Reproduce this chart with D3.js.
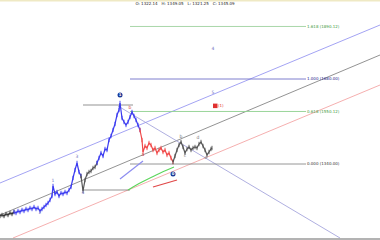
<!DOCTYPE html>
<html lang="en">
<head>
<meta charset="UTF-8">
<title>Elliott wave chart</title>
<style>
  html, body { margin: 0; padding: 0; background: #fff; }
  svg { display: block; font-family: "DejaVu Sans", sans-serif; }
</style>
</head>
<body>
<div id="chart"></div>
<script src="https://d3js.org/d3.v7.min.js"></script>
<script>
const [width, height] = [380, 240]

// header quote
const quote = "O: 1322.14   H: 1349.05   L: 1321.25   C: 1345.09"

// price path, split by wave colour (bar index, close)
const darkBars = [0, 2, 4, 6, 8, 10, 12, 14]
const darkCloses = [1132, 1136, 1132, 1140, 1136, 1144, 1140, 1148]

const blueBars1 = [14, 16, 18, 20, 22, 24, 26, 28, 30, 32, 34, 36, 38, 40, 42, 44, 46, 48, 50, 52, 53, 55, 57, 59, 61, 63, 65, 67, 69, 71, 73, 75, 77, 79, 81]
const blueCloses1 = [1148, 1144, 1152, 1148, 1156, 1152, 1160, 1156, 1164, 1160, 1168, 1160, 1164, 1152, 1160, 1168, 1176, 1184, 1196, 1212, 1252, 1220, 1228, 1212, 1224, 1220, 1228, 1224, 1236, 1248, 1284, 1316, 1344, 1308, 1292]

const greyBars1 = [81, 83, 85, 87, 89, 91, 93, 95, 97]
const greyCloses1 = [1292, 1232, 1276, 1300, 1308, 1312, 1324, 1328, 1344]

const blueBars2 = [97, 99, 101, 103, 105, 107, 109, 111, 113, 115, 117, 119, 120, 122, 124, 126, 128, 130, 132, 134, 136, 138, 140]
const blueCloses2 = [1344, 1364, 1384, 1372, 1400, 1396, 1436, 1452, 1476, 1500, 1536, 1556, 1584, 1524, 1508, 1496, 1508, 1528, 1548, 1532, 1516, 1496, 1476]

const redBars = [140, 142, 143, 145, 147, 149, 151, 153, 155, 157, 159, 161, 163, 165, 167, 169, 171, 173]
const redCloses = [1476, 1436, 1388, 1412, 1404, 1424, 1416, 1396, 1404, 1384, 1396, 1404, 1388, 1396, 1376, 1384, 1364, 1348]

const greyBars2 = [173, 175, 177, 179, 181, 183, 185, 187, 189, 191, 193, 195, 197, 199, 201, 203, 205, 207, 209, 211, 212]
const greyCloses2 = [1348, 1372, 1396, 1416, 1428, 1408, 1384, 1400, 1408, 1396, 1404, 1408, 1404, 1420, 1428, 1412, 1396, 1376, 1388, 1400, 1404]

// fibonacci levels
const fibRatios = [1.618, 1.000, 0.618, 0.000]
const fibBase = 1340.00
const fibRange = 340.00
const fibColors = ["#9fd39f", "#6f6fc8", "#8fd08f", "#8a8a8a"]
const fibTextColors = ["#3e9a3e", "#22228a", "#3e9a3e", "#333"]

// trend lines [x1, p1, x2, p2]
const channelUpper = [0, 1264, 380, 1896]
const channelMid = [0, 1136, 380, 1776]
const channelLower = [13, 1044, 380, 1656]
const fanDown = [118, 1572, 340, 1044]
const shortBlue = [120, 1280, 143, 1352]
const shortRed = [153, 1248, 177, 1276]
const peakLevel = [83, 1576, 133, 1576]
const baseLevel = [83, 1236, 130, 1236]

const greenArcBars = [128, 136, 144, 152, 160, 167, 174]
const greenArcPrices = [1236, 1256, 1272, 1288, 1304, 1316, 1328]

// wave labels
const waveLabels = [
  {bar: 213, price: 1796, text: "4", color: "#7070c0"},
  {bar: 213, price: 1620, text: "5", color: "#7070c0"},
  {bar: 77, price: 1364, text: "3", color: "#7070c0"},
  {bar: 53, price: 1268, text: "1", color: "#7070c0"},
  {bar: 40, price: 1140, text: "2", color: "#7070c0"},
  {bar: 83, price: 1220, text: "4", color: "#7070c0"},
  {bar: 130, price: 1560, text: "b", color: "#d04040"},
  {bar: 143, price: 1372, text: "a", color: "#d04040"},
  {bar: 181, price: 1444, text: "b", color: "#777"},
  {bar: 198, price: 1440, text: "d", color: "#777"},
  {bar: 206, price: 1360, text: "e", color: "#777"},
  {bar: 185, price: 1368, text: "c", color: "#777"}
]
const circleLabels = [
  {bar: 120, price: 1616, text: "1"},
  {bar: 173, price: 1300, text: "0"}
]

const x = d3.scaleLinear().domain([0, 380]).range([0, width])
const y = d3.scaleLinear().domain([fibBase, fibBase + fibRange]).range([164, 79])

const svg = d3.select("#chart").append("svg")
    .attr("width", width)
    .attr("height", height)

// header band
svg.append("rect").attr("x", 0).attr("y", 0).attr("width", width).attr("height", 1.5).attr("fill", "#efe9c4")
svg.append("text")
    .attr("x", 185).attr("y", 4.5)
    .attr("text-anchor", "middle")
    .attr("font-size", 4)
    .attr("fill", "#222")
    .style("white-space", "pre")
    .text(quote)

function seg(arr, color, w) {
  svg.append("line")
      .attr("x1", x(arr[0])).attr("y1", y(arr[1]))
      .attr("x2", x(arr[2])).attr("y2", y(arr[3]))
      .attr("stroke", color)
      .attr("stroke-width", w || 0.8)
}

// channel
seg(channelUpper, "#8c8cf0", 0.8)
seg(channelMid, "#777", 0.8)
seg(channelLower, "#f29a9a", 0.8)
seg(fanDown, "#9a9ad8", 0.8)

// fib levels
fibRatios.forEach((r, i) => {
  const p = fibBase + r * fibRange
  svg.append("line")
      .attr("x1", x(130)).attr("x2", x(306))
      .attr("y1", y(p)).attr("y2", y(p))
      .attr("stroke", fibColors[i])
      .attr("stroke-width", 0.9)
  svg.append("text")
      .attr("x", x(307)).attr("y", y(p) + 1.4)
      .attr("font-size", 4)
      .attr("fill", fibTextColors[i])
      .text(r.toFixed(3) + " (" + p.toFixed(2) + ")")
})

seg(peakLevel, "#666", 0.7)
seg(baseLevel, "#666", 0.7)
seg(shortBlue, "#8c8cf0", 1.2)
seg(shortRed, "#e04848", 1.2)

svg.append("path")
    .attr("d", d3.line().curve(d3.curveBasis)(greenArcBars.map((b, i) => [x(b), y(greenArcPrices[i])])))
    .attr("fill", "none")
    .attr("stroke", "#5cd65c")
    .attr("stroke-width", 1.1)

// price series
function series(bars, closes, color) {
  const pts = bars.map((b, i) => [x(b), y(closes[i])])
  svg.append("path")
      .attr("d", d3.line()(pts))
      .attr("fill", "none")
      .attr("stroke", color)
      .attr("stroke-width", 1.2)
  svg.append("g").selectAll("line").data(pts).join("line")
      .attr("x1", d => d[0]).attr("x2", d => d[0])
      .attr("y1", d => d[1] - 2.2).attr("y2", d => d[1] + 2.2)
      .attr("stroke", color)
      .attr("stroke-width", 0.9)
}
series(darkBars, darkCloses, "#333")
series(blueBars1, blueCloses1, "#3a3af0")
series(greyBars1, greyCloses1, "#555")
series(blueBars2, blueCloses2, "#3a3af0")
series(redBars, redCloses, "#f04848")
series(greyBars2, greyCloses2, "#555")

// wave labels
waveLabels.forEach(l => {
  svg.append("text")
      .attr("x", x(l.bar)).attr("y", y(l.price))
      .attr("text-anchor", "middle")
      .attr("font-size", 4.5)
      .attr("fill", l.color)
      .text(l.text)
})
circleLabels.forEach(l => {
  svg.append("circle")
      .attr("cx", x(l.bar)).attr("cy", y(l.price))
      .attr("r", 2.5)
      .attr("fill", "#1a3a9a")
  svg.append("text")
      .attr("x", x(l.bar)).attr("y", y(l.price) + 1.4)
      .attr("text-anchor", "middle")
      .attr("font-size", 3.8)
      .attr("font-weight", "bold")
      .attr("fill", "#fff")
      .text(l.text)
})

// red tag
svg.append("rect").attr("x", x(213)).attr("y", y(1572) - 2.4).attr("width", 4.5).attr("height", 4.5).attr("fill", "#e03030")
svg.append("text").attr("x", x(218)).attr("y", y(1572) + 1.4).attr("font-size", 4).attr("fill", "#e03030").text("(1)")

// bottom border
svg.append("line").attr("x1", 0).attr("x2", width).attr("y1", 239).attr("y2", 239)
    .attr("stroke", "#9a9a9a").attr("stroke-width", 1.5)
</script>
</body>
</html>
